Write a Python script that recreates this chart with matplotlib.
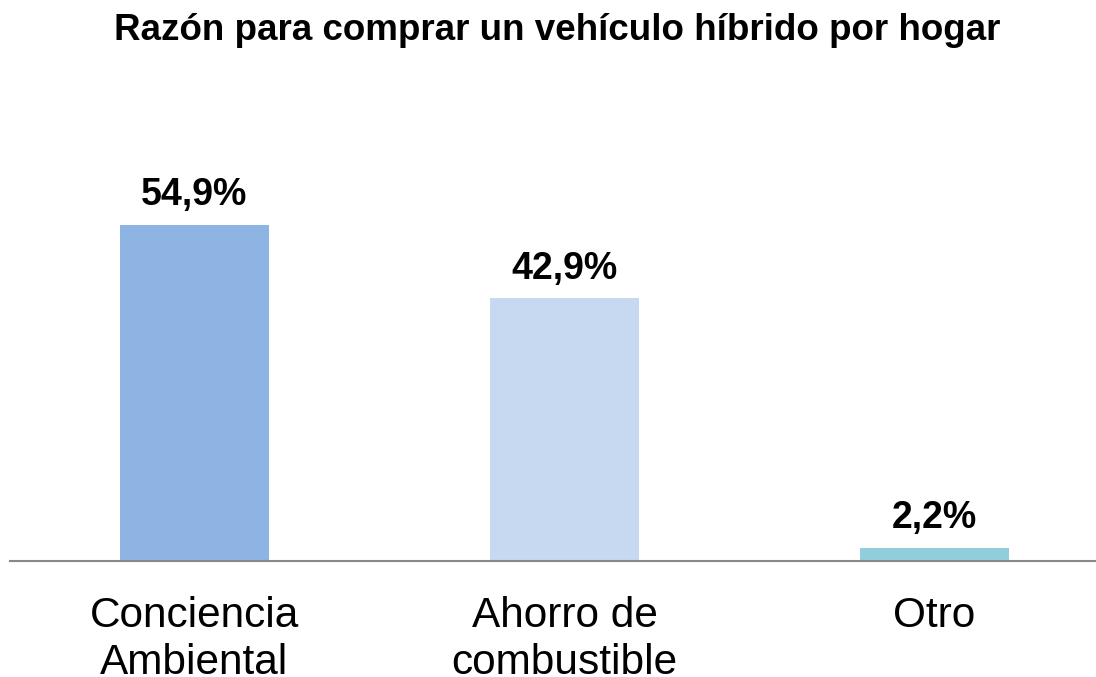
import matplotlib.pyplot as plt

categories = ['Conciencia\nAmbiental', 'Ahorro de\ncombustible', 'Otro']
values = [54.9, 42.9, 2.2]
labels = ['54,9%', '42,9%', '2,2%']
colors = ['#8EB4E3', '#C6D9F1', '#92CDDC']

plt.rcParams['font.family'] = ['Liberation Sans', 'DejaVu Sans']

W, H = 1096, 677
fig = plt.figure(figsize=(W / 100, H / 100), dpi=100)

# axes placed in pixel terms: baseline at y=561, first category starts at x=9.5
base_y = 561
top_y = 100
px_per_unit = 336 / 54.9
ax = fig.add_axes([9.5 / W, (H - base_y) / H, (W - 9.5) / W, (base_y - top_y) / H])

x = range(len(categories))
ax.bar(x, values, width=0.403, color=colors)
for xi, v, lab in zip(x, values, labels):
    ax.text(xi, v + 3.2, lab, ha='center', va='baseline', fontsize=27, fontweight='bold')

ax.set_xlim(-0.5, -0.5 + (W - 9.5) / 370)
ax.set_ylim(0, (base_y - top_y) / px_per_unit)
ax.set_yticks([])
ax.set_xticks(list(x))
ax.set_xticklabels(categories, fontsize=30.5, linespacing=1.25)
ax.tick_params(axis='x', length=0, pad=25)
for side in ['top', 'right', 'left']:
    ax.spines[side].set_visible(False)
ax.spines['bottom'].set_color('#888888')
ax.spines['bottom'].set_linewidth(1.5)

fig.text(557 / W, 1 - 31 / H, 'Razón para comprar un vehículo híbrido por hogar',
         ha='center', va='center', fontsize=26.5, fontweight='bold')

fig.savefig('out.png', dpi=100)
